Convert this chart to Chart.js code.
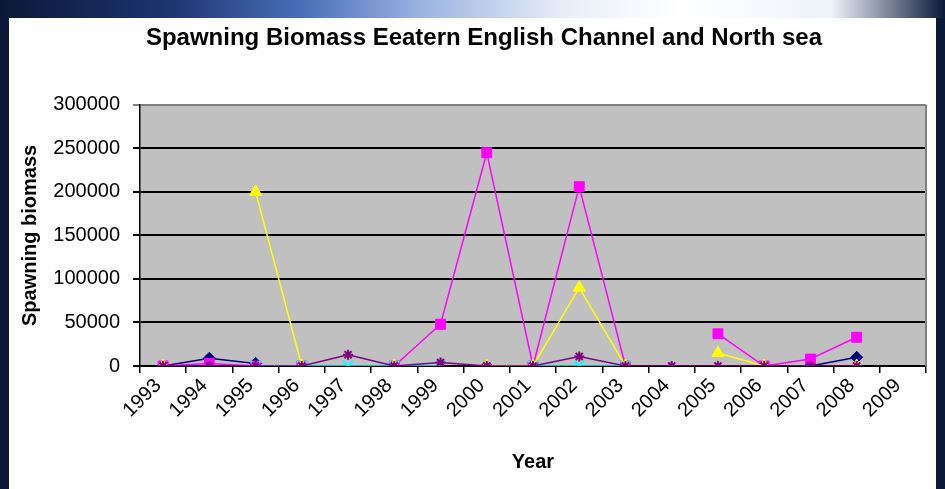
<!DOCTYPE html>
<html>
<head>
<meta charset="utf-8">
<script src="https://cdn.jsdelivr.net/npm/chart.js@4"></script>
<style>
html,body{margin:0;padding:0;width:945px;height:489px;overflow:hidden;background:#0b1838;}
#topband{position:absolute;left:0;top:0;width:945px;height:18px;
  background:linear-gradient(90deg,#0b1838 0%,#1d3570 18%,#4a6fb8 32%,#9db5e2 45%,#e9eff9 60%,#ffffff 72%,#eef3fa 88%,#0b1838 100%);}
#white{position:absolute;left:9px;top:18px;width:927px;height:471px;background:#ffffff;}
#wrap{position:absolute;left:0;top:0;width:945px;height:489px;}
</style>
</head>
<body>
<div id="topband"></div>
<div id="white"></div>
<div id="wrap"><canvas id="c" width="945" height="489"></canvas></div>
<script>
// ---- data ----
const years = ['1993','1994','1995','1996','1997','1998','1999','2000','2001','2002','2003','2004','2005','2006','2007','2008','2009'];
const seriesNavy    = [0, 9000, 3000, null, null, null, null, 0, null, null, null, null, null, null, 0, 10000, null];
const seriesMagenta = [0, 3000, 0, 0, null, 0, 48000, 245000, 0, 206000, 0, null, 37000, 0, 8000, 33000, null];
const seriesYellow  = [0, null, 200000, 0, null, 0, null, 0, 0, 90000, 0, null, 15000, 0, null, 0, null];
const seriesCyan    = [null, null, 0, 0, 0, 0, 0, null, 0, 0, 0, null, null, null, null, null, null];
const seriesPurple  = [0, 0, 0, 0, 13000, 0, 4000, 0, 0, 11000, 0, 0, 0, 0, 0, 0, null];
const yTicks = [0, 50000, 100000, 150000, 200000, 250000, 300000];

const titleText = 'Spawning Biomass Eeatern English Channel and North sea';
const yTitle = 'Spawning biomass';
const xTitle = 'Year';

const FONT = "'Liberation Sans', Arial, sans-serif";

const plotBg = {
  id: 'plotBg',
  beforeDraw(chart) {
    const {ctx, chartArea: {left, top, right, bottom}} = chart;
    ctx.save();
    ctx.fillStyle = '#c0c0c0';
    ctx.fillRect(left, top, right - left, bottom - top);
    ctx.restore();
  },
  beforeDatasetsDraw(chart) {
    const {ctx, chartArea: {top, right, bottom}} = chart;
    ctx.save();
    ctx.strokeStyle = '#808080';
    ctx.lineWidth = 2;
    ctx.beginPath();
    ctx.moveTo(right, top);
    ctx.lineTo(right, bottom);
    ctx.stroke();
    ctx.restore();
  }
};

function ds(label, data, color, style, radius, order) {
  return {
    label, data, order,
    borderColor: color,
    backgroundColor: color,
    pointBackgroundColor: color,
    pointBorderColor: color,
    pointStyle: style,
    pointRadius: radius,
    pointBorderWidth: style === 'star' || style === 'crossRot' ? 2 : 1,
    borderWidth: 1.5,
    tension: 0,
    spanGaps: false
  };
}

new Chart(document.getElementById('c'), {
  type: 'line',
  data: {
    labels: years,
    datasets: [
      ds('Series1', seriesNavy, '#000080', 'rectRot', 6, 5),
      ds('Series2', seriesMagenta, '#ff00ff', 'rect', 7, 4),
      ds('Series3', seriesYellow, '#ffff00', 'triangle', 7, 3),
      ds('Series4', seriesCyan, '#00ffff', 'crossRot', 7, 2),
      ds('Series5', seriesPurple, '#800080', 'star', 5, 1)
    ]
  },
  options: {
    responsive: false,
    animation: false,
    devicePixelRatio: 1,
    layout: {padding: {left: 42, right: 19, top: 0, bottom: 0}},
    plugins: {
      legend: {display: false},
      tooltip: {enabled: false},
      title: {
        display: true,
        text: titleText,
        color: '#000',
        font: {family: FONT, size: 24, weight: 'bold'},
        padding: {top: 24, bottom: 52}
      }
    },
    scales: {
      x: {
        type: 'category',
        offset: true,
        afterFit(scale) { scale.height = 123; },
        grid: {offset: true, drawOnChartArea: false, drawTicks: true, tickLength: 7, color: '#000', lineWidth: 1.5},
        border: {display: true, color: '#000', width: 1.5},
        ticks: {
          autoSkip: false, maxRotation: 45, minRotation: 45,
          color: '#000', padding: 1, labelOffset: -5,
          font: {family: FONT, size: 20}
        },
        title: {
          display: true, text: xTitle, color: '#000',
          font: {family: FONT, size: 20, weight: 'bold'},
          padding: {top: 0, bottom: 15}
        }
      },
      y: {
        min: 0, max: 300000,
        afterFit(scale) { scale.width = 98; },
        afterBuildTicks(scale) { scale.ticks = yTicks.map(v => ({value: v})); },
        grid: {
          color: (c) => (c.tick && c.tick.value === 300000) ? '#808080' : '#000',
          lineWidth: 2, drawTicks: true, tickLength: 7
        },
        border: {display: true, color: '#000', width: 1.5},
        ticks: {
          color: '#000', padding: 13,
          font: {family: FONT, size: 20},
          callback: (v) => String(v)
        },
        title: {
          display: true, text: yTitle, color: '#000',
          font: {family: FONT, size: 20, weight: 'bold'},
          padding: {top: -24, bottom: 0}
        }
      }
    }
  },
  plugins: [plotBg]
});
</script>
</body>
</html>
